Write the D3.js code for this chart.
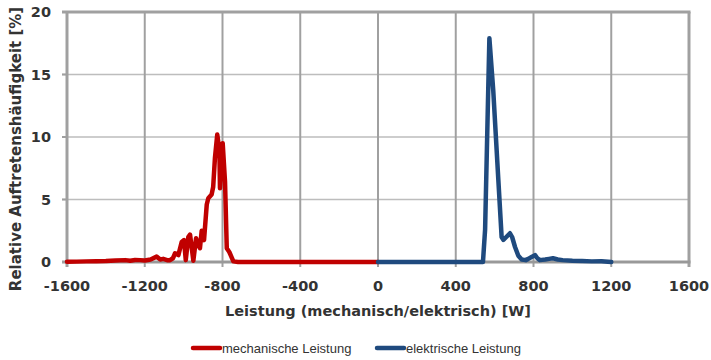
<!DOCTYPE html>
<html>
<head>
<meta charset="utf-8">
<script src="https://cdn.jsdelivr.net/npm/d3@7"></script>
<style>
  body { margin: 0; background: #fff; }
  svg { display: block; }
</style>
</head>
<body>
<div id="chart"></div>
<script>
// mechanische Leistung (negativ dargestellt)
const mechWatt = [-1600, -1550, -1500, -1450, -1400, -1350, -1300, -1275, -1250, -1224, -1200, -1170, -1139, -1120, -1105, -1085, -1070, -1055, -1044, -1027, -1010, -998, -989, -976, -967, -950, -936, -925, -916, -907, -895, -881, -873, -856, -848, -839, -827, -816, -813, -799, -787, -778, -765, -744, -720, 0];
const mechPct = [0.02, 0.03, 0.05, 0.06, 0.08, 0.12, 0.15, 0.1, 0.16, 0.15, 0.12, 0.2, 0.43, 0.2, 0.25, 0.15, 0.15, 0.3, 0.7, 0.55, 1.6, 1.75, 0.15, 2.0, 2.2, 0.1, 1.9, 1.35, 1.1, 2.5, 1.75, 4.6, 5.1, 5.4, 6.0, 8.3, 10.2, 9.0, 5.9, 9.5, 6.4, 1.1, 0.8, 0.05, 0, 0];

// elektrische Leistung
const elekWatt = [0, 540, 551, 573, 593, 619, 636, 645, 660, 679, 690, 705, 722, 739, 760, 773, 790, 808, 820, 833, 860, 880, 900, 925, 950, 1000, 1050, 1100, 1150, 1200];
const elekPct = [0, 0, 2.6, 17.9, 13.7, 6.6, 2.0, 1.77, 2.0, 2.3, 2.0, 1.2, 0.5, 0.2, 0.15, 0.25, 0.4, 0.55, 0.3, 0.15, 0.2, 0.25, 0.3, 0.2, 0.15, 0.1, 0.08, 0.05, 0.06, 0];

const xTicks = [-1600, -1200, -800, -400, 0, 400, 800, 1200, 1600];
const yTicks = [0, 5, 10, 15, 20];

const seriesNames = ["mechanische Leistung", "elektrische Leistung"];
const seriesColors = ["#c00000", "#1f4a7e"];

const width = 711;
const height = 360;
const margin = { top: 12, right: 22, bottom: 98, left: 67 };

const svg = d3.select("#chart")
  .append("svg")
  .attr("width", width)
  .attr("height", height);

const x = d3.scaleLinear().domain([-1600, 1600]).range([margin.left, width - margin.right]);
const y = d3.scaleLinear().domain([0, 20]).range([height - margin.bottom, margin.top]);

const font = "DejaVu Sans, sans-serif";

// horizontal grid
svg.append("g")
  .selectAll("line")
  .data(yTicks.filter(d => d > 0 && d < 20))
  .enter()
  .append("line")
  .attr("x1", x(-1600) - 5)
  .attr("x2", x(1600))
  .attr("y1", d => y(d))
  .attr("y2", d => y(d))
  .attr("stroke", "#bdbdbd")
  .attr("stroke-width", 1.5);

// vertical grid (incl. ticks below axis)
svg.append("g")
  .selectAll("line")
  .data(xTicks)
  .enter()
  .append("line")
  .attr("x1", d => x(d))
  .attr("x2", d => x(d))
  .attr("y1", y(20))
  .attr("y2", y(0) + 5)
  .attr("stroke", "#a0a0a0")
  .attr("stroke-width", d => (d === -1600 || d === 1600) ? 3 : 2);

// top border, bottom axis, y ticks
svg.append("line")
  .attr("x1", x(-1600) - 5).attr("x2", x(1600) + 1.5)
  .attr("y1", y(20)).attr("y2", y(20))
  .attr("stroke", "#a0a0a0").attr("stroke-width", 3);

svg.append("line")
  .attr("x1", x(-1600) - 5).attr("x2", x(1600) + 1.5)
  .attr("y1", y(0)).attr("y2", y(0))
  .attr("stroke", "#999").attr("stroke-width", 3);

svg.append("g")
  .selectAll("line")
  .data(yTicks)
  .enter()
  .append("line")
  .attr("x1", x(-1600) - 5)
  .attr("x2", x(-1600))
  .attr("y1", d => y(d))
  .attr("y2", d => y(d))
  .attr("stroke", "#a0a0a0")
  .attr("stroke-width", 2);

// tick labels
svg.append("g")
  .selectAll("text")
  .data(xTicks)
  .enter()
  .append("text")
  .attr("x", d => x(d))
  .attr("y", y(0) + 29)
  .attr("text-anchor", "middle")
  .attr("font-family", font)
  .attr("font-weight", "bold")
  .attr("font-size", "14.5px")
  .attr("fill", "#333")
  .text(d => d);

svg.append("g")
  .selectAll("text")
  .data(yTicks)
  .enter()
  .append("text")
  .attr("x", x(-1600) - 16)
  .attr("y", d => y(d) + 5)
  .attr("text-anchor", "end")
  .attr("font-family", font)
  .attr("font-weight", "bold")
  .attr("font-size", "14.5px")
  .attr("fill", "#333")
  .text(d => d);

// axis titles
svg.append("text")
  .attr("x", x(0))
  .attr("y", 316)
  .attr("text-anchor", "middle")
  .attr("font-family", font)
  .attr("font-weight", "bold")
  .attr("font-size", "14.5px")
  .attr("fill", "#333")
  .text("Leistung (mechanisch/elektrisch) [W]");

svg.append("text")
  .attr("transform", "translate(21," + 149 + ") rotate(-90)")
  .attr("text-anchor", "middle")
  .attr("font-family", font)
  .attr("font-weight", "bold")
  .attr("font-size", "15px")
  .attr("fill", "#333")
  .text("Relative Auftretenshäufigkeit [%]");

// data lines
const line = d3.line()
  .x(d => x(d[0]))
  .y(d => y(d[1]));

const series = [
  d3.zip(mechWatt, mechPct),
  d3.zip(elekWatt, elekPct)
];

svg.append("g")
  .selectAll("path")
  .data(series)
  .enter()
  .append("path")
  .attr("d", line)
  .attr("fill", "none")
  .attr("stroke", (d, i) => seriesColors[i])
  .attr("stroke-width", 4.5)
  .attr("stroke-linejoin", "round")
  .attr("stroke-linecap", "round");

// legend
const legendX = [193, 377];
const legend = svg.append("g");

seriesNames.forEach((name, i) => {
  legend.append("line")
    .attr("x1", legendX[i])
    .attr("x2", legendX[i] + 27)
    .attr("y1", 348)
    .attr("y2", 348)
    .attr("stroke", seriesColors[i])
    .attr("stroke-width", 4.5)
    .attr("stroke-linecap", "round");

  legend.append("text")
    .attr("x", legendX[i] + 29)
    .attr("y", 352.5)
    .attr("font-family", "Liberation Sans, Arial, sans-serif")
    .attr("font-size", "13px")
    .attr("fill", "#333")
    .text(name);
});
</script>
</body>
</html>
